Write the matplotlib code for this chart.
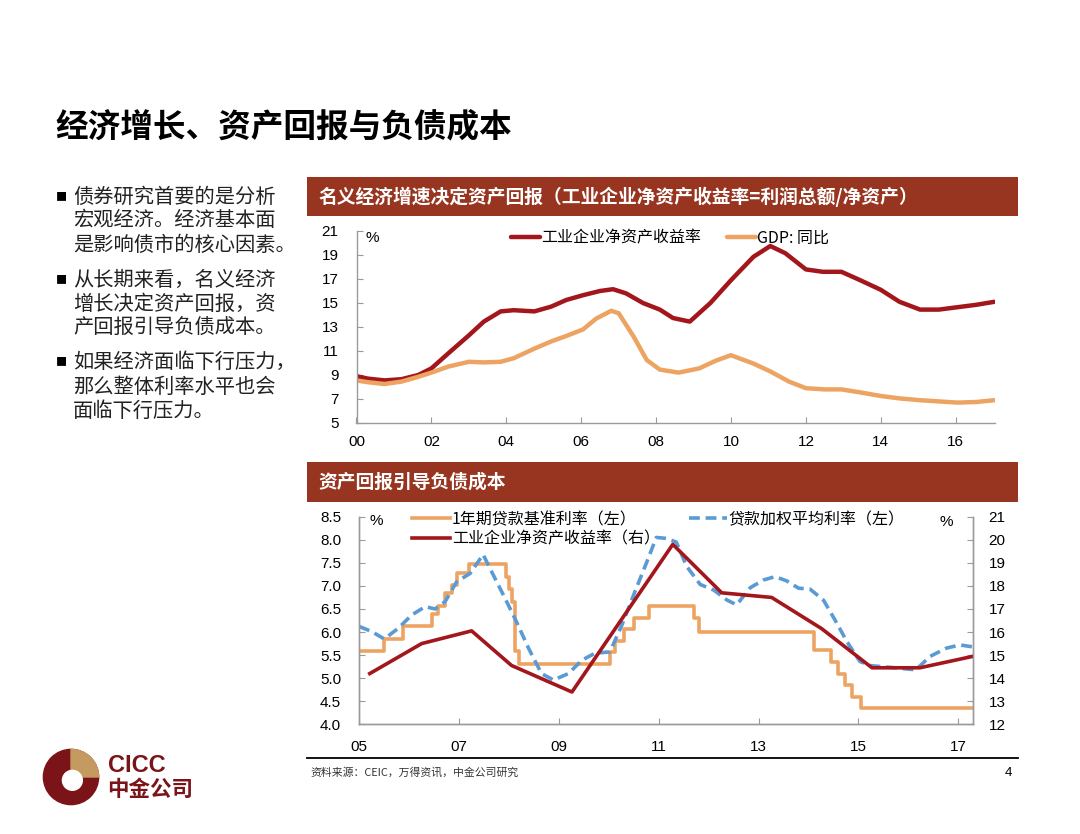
import matplotlib
matplotlib.use('Agg')
import matplotlib.pyplot as plt
from matplotlib.patches import Rectangle, Circle, Wedge
from matplotlib.lines import Line2D

# fonts: CJK first, fall back to DejaVu
CJK = ['Noto Sans CJK SC', 'DejaVu Sans']
NUM = ['Liberation Sans', 'DejaVu Sans']
plt.rcParams['font.family'] = CJK
plt.rcParams['axes.unicode_minus'] = False

# ---- data: top chart (years, %) ----
roe_x = [2000.0, 2000.3, 2000.75, 2001.2, 2001.65, 2002.0, 2002.45, 2003.0, 2003.4, 2003.85,
         2004.2, 2004.75, 2005.2, 2005.6, 2006.05, 2006.5, 2006.85, 2007.2, 2007.65, 2008.1,
         2008.45, 2008.9, 2009.45, 2010.0, 2010.6, 2011.05, 2011.45, 2012.0, 2012.45, 2012.95,
         2013.45, 2014.0, 2014.5, 2015.05, 2015.55, 2016.05, 2016.55, 2017.03]
roe = [8.9, 8.7, 8.55, 8.65, 9.0, 9.55, 10.8, 12.3, 13.45, 14.3,
       14.4, 14.3, 14.7, 15.25, 15.65, 16.0, 16.15, 15.8, 15.0, 14.45,
       13.75, 13.45, 15.0, 16.9, 18.85, 19.75, 19.15, 17.8, 17.6, 17.6,
       16.9, 16.1, 15.1, 14.45, 14.45, 14.65, 14.85, 15.1]

gdp_x = [2000.0, 2000.3, 2000.75, 2001.2, 2001.65, 2002.0, 2002.45, 2003.0, 2003.4, 2003.85,
         2004.2, 2004.75, 2005.2, 2005.6, 2006.05, 2006.4, 2006.8, 2007.0, 2007.4, 2007.75,
         2008.1, 2008.6, 2009.15, 2009.6, 2010.0, 2010.6, 2011.05, 2011.55, 2012.0, 2012.5,
         2012.95, 2013.45, 2014.0, 2014.5, 2015.05, 2015.55, 2016.05, 2016.55, 2017.03]
gdp = [8.55, 8.4, 8.25, 8.45, 8.85, 9.2, 9.7, 10.1, 10.05, 10.1,
       10.4, 11.2, 11.8, 12.25, 12.8, 13.7, 14.35, 14.15, 12.2, 10.25,
       9.45, 9.2, 9.55, 10.2, 10.65, 9.95, 9.3, 8.45, 7.9, 7.8,
       7.8, 7.55, 7.25, 7.05, 6.9, 6.8, 6.7, 6.75, 6.9]

top_ticks = [2000, 2002, 2004, 2006, 2008, 2010, 2012, 2014, 2016]
top_labels = ['00', '02', '04', '06', '08', '10', '12', '14', '16']

# ---- data: bottom chart ----
bench_x = [2005.0, 2005.5, 2005.88, 2006.45, 2006.58, 2006.72, 2006.85, 2006.95, 2007.2,
           2007.93, 2007.99, 2008.05, 2008.12, 2008.2, 2010.02, 2010.12, 2010.3, 2010.5,
           2010.8, 2011.7, 2011.8, 2014.1, 2014.45, 2014.58, 2014.72, 2014.88, 2015.05, 2017.3]
bench = [5.58, 5.85, 6.12, 6.39, 6.57, 6.84, 7.02, 7.29, 7.47,
         7.20, 6.93, 6.66, 5.58, 5.31, 5.56, 5.81, 6.06, 6.31,
         6.56, 6.31, 6.00, 5.60, 5.35, 5.10, 4.85, 4.60, 4.35, 4.35]

wlr_x = [2005.0, 2005.25, 2005.5, 2005.78, 2006.05, 2006.32, 2006.52, 2006.72, 2006.95, 2007.22,
         2007.48, 2007.65, 2007.92, 2008.15, 2008.39, 2008.65, 2008.89, 2009.19, 2009.46, 2009.72,
         2010.02, 2010.26, 2010.52, 2010.76, 2010.95, 2011.15, 2011.35, 2011.56, 2011.83, 2012.1,
         2012.37, 2012.56, 2012.83, 2013.1, 2013.33, 2013.56, 2013.8, 2014.03, 2014.3, 2014.53,
         2014.77, 2015.03, 2015.25, 2015.69, 2016.15, 2016.43, 2016.76, 2017.03, 2017.28]
wlr = [6.12, 6.01, 5.85, 6.08, 6.37, 6.55, 6.5, 6.66, 7.09, 7.27,
       7.68, 7.31, 6.73, 6.22, 5.65, 5.1, 4.96, 5.1, 5.39, 5.54,
       5.57, 6.15, 6.87, 7.52, 8.05, 8.03, 7.95, 7.42, 7.03, 6.91,
       6.69, 6.59, 6.96, 7.13, 7.2, 7.11, 6.95, 6.93, 6.69, 6.26,
       5.79, 5.36, 5.27, 5.23, 5.18, 5.47, 5.65, 5.72, 5.68]

roe2_x = [2005.21, 2006.25, 2007.25, 2008.05, 2009.26, 2011.28, 2012.26, 2013.26, 2014.26,
          2015.27, 2016.23, 2017.3]
roe2 = [14.2, 15.5, 16.05, 14.55, 13.4, 19.8, 17.7, 17.5, 16.15, 14.45, 14.45, 14.95]

bot_ticks = [2005, 2007, 2009, 2011, 2013, 2015, 2017]
bot_labels = ['05', '07', '09', '11', '13', '15', '17']

bullets = [
    ['债券研究首要的是分析', '宏观经济。经济基本面', '是影响债市的核心因素。'],
    ['从长期来看，名义经济', '增长决定资产回报，资', '产回报引导负债成本。'],
    ['如果经济面临下行压力，', '那么整体利率水平也会', '面临下行压力。'],
]

# colours
BAR = '#983520'
RED = '#A3161C'
ORANGE = '#EDA462'
BLUE = '#5B9BD5'
SPINE = '#9A9A9A'

W, H = 1080, 834
fig = plt.figure(figsize=(W / 100, H / 100), dpi=100)


def fx(x):
    return x / W


def fy(y):
    return 1 - y / H


# title
fig.text(fx(55), fy(127), '经济增长、资产回报与负债成本', fontsize=23.5, fontweight='bold',
         va='center', ha='left')

# bullet text on the left
line_y = [[197, 221, 245], [280, 304, 328], [362, 387, 411]]
for block, ys in zip(bullets, line_y):
    fig.text(fx(56), fy(ys[0]), '■', fontsize=8, va='center', ha='left')
    for line, y in zip(block, ys):
        fig.text(fx(73), fy(y), line, fontsize=14.6, va='center', ha='left', color='#222222')

# header bars
for y0, y1, txt in [(177, 216, '名义经济增速决定资产回报（工业企业净资产收益率=利润总额/净资产）'),
                    (462, 502, '资产回报引导负债成本')]:
    fig.add_artist(Rectangle((fx(307), fy(y1)), fx(1018) - fx(307), (y1 - y0) / H,
                             transform=fig.transFigure, facecolor=BAR, edgecolor='none'))
    fig.text(fx(318), fy((y0 + y1) / 2), txt, color='white', fontsize=13.5, fontweight='bold',
             va='center', ha='left')


def style_axis(ax, spines):
    for s in ['left', 'right', 'top', 'bottom']:
        ax.spines[s].set_visible(s in spines)
        ax.spines[s].set_color(SPINE)
        ax.spines[s].set_linewidth(1.0)
    ax.tick_params(direction='in', length=4, color=SPINE, labelsize=11)
    for lab in ax.get_xticklabels() + ax.get_yticklabels():
        lab.set_family(NUM)


# ---- top chart ----
ax1 = fig.add_axes([fx(356.5), fy(423), (995 - 356.5) / W, (423 - 231) / H])
l1, = ax1.plot(roe_x, roe, color=RED, lw=3.2, solid_joinstyle='round', solid_capstyle='round')
l2, = ax1.plot(gdp_x, gdp, color=ORANGE, lw=3.2, solid_joinstyle='round', solid_capstyle='round')
ax1.set_xlim(2000, 2017.05)
ax1.set_ylim(5, 21)
ax1.set_yticks(range(5, 22, 2))
ax1.set_xticks(top_ticks)
ax1.set_xticklabels(top_labels)
style_axis(ax1, ['left', 'bottom'])
ax1.tick_params(axis='y', pad=13)
ax1.tick_params(axis='x', pad=9)
fig.text(fx(366), fy(238), '%', fontsize=11, family=NUM, va='center', ha='left')
fig.legend([l1, l2], ['工业企业净资产收益率', 'GDP: 同比'], ncol=2, frameon=False,
           loc='center left', bbox_to_anchor=(fx(511), fy(238)), bbox_transform=fig.transFigure,
           fontsize=11.5, handlelength=1.8, handletextpad=0.1, columnspacing=1.6,
           borderpad=0, borderaxespad=0)

# ---- bottom chart ----
ax2 = fig.add_axes([fx(359.3), fy(724.3), (973.3 - 359.3) / W, (724.3 - 516.7) / H])
ax3 = ax2.twinx()
b1, = ax2.plot(bench_x, bench, color=ORANGE, lw=2.6, drawstyle='steps-post')
b2, = ax2.plot(wlr_x, wlr, color=BLUE, lw=2.6, linestyle=(0, (3, 1.6)))
b3, = ax3.plot(roe2_x, roe2, color=RED, lw=2.6, solid_joinstyle='round')
ax2.set_xlim(2005, 2017.3)
ax2.set_ylim(4.0, 8.5)
ax3.set_ylim(12, 21)
ax2.set_yticks([4.0 + 0.5 * i for i in range(10)])
ax2.set_yticklabels(['%.1f' % (4.0 + 0.5 * i) for i in range(10)])
ax3.set_yticks(range(12, 22))
ax2.set_xticks(bot_ticks)
ax2.set_xticklabels(bot_labels)
style_axis(ax2, ['left', 'bottom', 'right'])
style_axis(ax3, ['left', 'bottom', 'right'])
ax2.tick_params(axis='y', pad=13)
ax2.tick_params(axis='x', pad=11)
ax3.tick_params(axis='y', pad=11)
fig.text(fx(370), fy(521), '%', fontsize=11, family=NUM, va='center', ha='left')
fig.text(fx(940), fy(522), '%', fontsize=11, family=NUM, va='center', ha='left')
fig.legend([b1, b3, b2], ['1年期贷款基准利率（左）', '工业企业净资产收益率（右）', '贷款加权平均利率（左）'],
           ncol=2, frameon=False, loc='upper left', bbox_to_anchor=(fx(412), fy(511)),
           bbox_transform=fig.transFigure, fontsize=11.5, handlelength=2.4, handletextpad=0.1,
           columnspacing=1.8, labelspacing=0.15, borderpad=0, borderaxespad=0)

# footer
fig.add_artist(Line2D([fx(307), fx(1018)], [fy(758), fy(758)], transform=fig.transFigure,
                      color='black', lw=1.3))
fig.text(fx(310), fy(773), '资料来源：CEIC，万得资讯，中金公司研究', fontsize=7.8,
         va='center', ha='left', color='#333333')
fig.text(fx(1012), fy(773), '4', fontsize=9.5, family=NUM, va='center', ha='right')

# CICC logo
axl = fig.add_axes([fx(42), fy(806), 58 / W, 58 / H])
axl.set_xlim(-1.05, 1.05)
axl.set_ylim(-1.05, 1.05)
axl.set_aspect('equal')
axl.axis('off')
axl.add_patch(Circle((0, 0), 1, color='#7A1418'))
axl.add_patch(Wedge((0, 0), 1, 0, 90, color='#C49A60'))
axl.add_patch(Circle((0.05, -0.12), 0.36, color='white'))
fig.text(fx(108), fy(765), 'CICC', fontsize=17, fontweight='bold', family=NUM, color='#7A1418',
         va='center', ha='left')
fig.text(fx(107), fy(789), '中金公司', fontsize=15.5, fontweight='bold', color='#7A1418',
         va='center', ha='left')

fig.savefig('out.png', dpi=100)
